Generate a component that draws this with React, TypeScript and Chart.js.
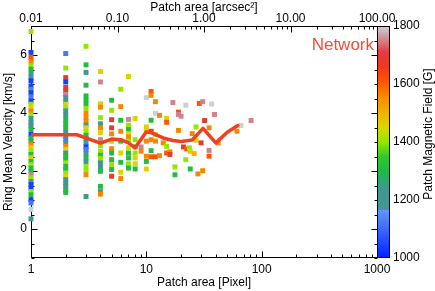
import React, { useEffect, useRef } from 'react';
import { Chart, registerables } from 'chart.js';

Chart.register(...registerables);

const FONT = '"Liberation Sans", Arial, Helvetica, sans-serif';

// ---- integer patch-area columns (pixel area) ----
const columnArea = [1, 2, 3, 4, 5, 6, 7, 8, 9, 10, 11, 12, 13, 14, 15, 16];

const columnVelocity = [
  [6.81, 6.09, 5.92, 5.77, 5.63, 5.51, 5.36, 5.22, 5.11, 4.93, 4.82, 4.70, 4.56, 4.41, 4.30, 4.18, 4.07, 3.93, 3.81, 3.66, 3.55, 3.43, 3.26, 3.14, 3.03, 2.91, 2.80, 2.68, 2.57, 2.45, 2.33, 2.22, 2.10, 1.99, 1.87, 1.76, 1.64, 1.53, 1.41, 1.29, 1.18, 1.01, 0.90, 0.68, 0.35],
  [6.05, 5.55, 5.22, 5.07, 4.88, 4.76, 4.64, 4.53, 4.38, 4.30, 4.18, 4.07, 3.93, 3.78, 3.64, 3.49, 3.34, 3.20, 3.08, 2.97, 2.85, 2.74, 2.62, 2.51, 2.39, 2.28, 2.16, 2.05, 1.93, 1.81, 1.70, 1.58, 1.47, 1.35, 1.26],
  [6.30, 5.66, 5.40, 4.96, 4.59, 4.44, 4.30, 4.16, 3.99, 3.84, 3.70, 3.58, 3.49, 3.35, 3.23, 3.12, 2.97, 2.83, 2.74, 2.60, 2.45, 2.31, 2.16, 2.02, 1.87, 1.12],
  [5.43, 5.07, 4.32, 4.20, 3.84, 3.63, 3.49, 3.32, 3.08, 2.88, 2.68, 2.54, 2.43, 2.28, 2.13, 1.99, 1.47, 1.29, 1.20],
  [4.44, 4.09, 3.77, 3.49, 3.28, 3.03, 2.77, 2.62, 2.39, 2.22, 2.05, 1.82],
  [4.82, 4.22, 3.75, 3.37, 3.03, 2.62, 2.30, 1.96, 1.74],
  [5.26, 3.78, 3.58, 3.43, 3.29, 3.17, 3.03, 2.80, 2.62, 2.45, 2.25, 2.10],
  [3.81, 3.08, 2.83, 2.62, 2.45, 2.25, 2.07],
  [2.83, 2.68],
  [4.53, 3.52, 3.37, 3.03, 2.51, 2.33, 2.07],
  [4.74, 4.61, 3.75, 3.37, 3.08, 2.70, 2.49],
  [4.39, 3.99, 3.26, 3.03, 2.49],
  [3.92, 2.53],
  [2.97],
  [3.81, 3.68, 2.85, 2.62],
  [2.66, 2.57],
];

const columnField = [
  [1400, 1040, 1610, 1560, 1400, 1310, 1200, 1200, 1040, 1040, 1200, 1040, 1120, 1040, 1400, 1455, 1560, 1400, 1200, 1200, 1200, 1310, 1040, 1310, 1310, 1560, 1455, 1400, 1310, 1455, 1310, 1400, 1310, 1310, 1750, 1400, 1200, 1040, 1040, 1400, 1310, 1040, 1120, 1800, 1200],
  [1120, 1400, 1680, 1040, 1680, 1680, 1750, 1200, 1200, 1455, 1400, 1200, 1200, 1310, 1310, 1310, 1200, 1200, 1120, 1200, 1560, 1455, 1200, 1310, 1310, 1400, 1310, 1310, 1400, 1455, 1200, 1200, 1200, 1310, 1310],
  [1400, 1310, 1200, 1310, 1310, 1310, 1310, 1400, 1560, 1560, 1560, 1200, 1455, 1400, 1310, 1200, 1200, 1040, 1120, 1200, 1310, 1200, 1400, 1400, 1560, 1200],
  [1455, 1750, 1455, 1560, 1400, 1200, 1560, 1455, 1750, 1400, 1400, 1310, 1400, 1200, 1200, 1310, 1310, 1200, 1560],
  [1310, 1400, 1680, 1680, 1560, 1400, 1560, 1310, 1310, 1400, 1310, 1680],
  [1400, 1560, 1310, 1560, 1310, 1455, 1310, 1455, 1560],
  [1455, 1750, 1400, 1310, 1455, 1560, 1400, 1455, 1310, 1310, 1400, 1310],
  [1455, 1400, 1310, 1400, 1455, 1455, 1310],
  [1750, 1560],
  [1800, 1455, 1455, 1560, 1560, 1310, 1455],
  [1610, 1560, 1310, 1680, 1560, 1310, 1610],
  [1560, 1800, 1455, 1560, 1610],
  [1560, 1560],
  [1560],
  [1455, 1610, 1400, 1610],
  [1560, 1680],
];

// ---- larger, sparse patches ----
const sparseArea = [17, 17.7, 17.7, 19, 19, 19, 20, 21, 22, 22, 22.4, 23.6, 24, 24, 25, 26, 27, 27, 28, 28.8, 29.8, 30.8, 30.8, 32, 35, 35, 35, 36.8, 39, 42, 61, 66, 81];
const sparseVelocity = [4.36, 2.14, 1.87, 4.03, 3.95, 3.40, 3.89, 2.83, 4.27, 2.39, 2.76, 2.80, 2.68, 2.07, 3.29, 2.60, 3.52, 3.06, 1.90, 4.33, 2.97, 4.39, 2.01, 3.74, 3.49, 2.71, 2.51, 4.31, 3.95, 2.97, 3.37, 3.57, 3.74];
const sparseField = [1750, 1400, 1310, 1610, 1750, 1560, 1750, 1680, 1800, 1400, 1610, 1400, 1455, 1310, 1560, 1500, 1400, 1455, 1560, 1610, 1680, 1750, 1560, 1680, 1560, 1750, 1610, 1800, 1750, 1560, 1560, 1800, 1750];

// ---- Network mean curve ----
const networkArea = [1, 2.5, 4, 5, 6, 7, 8, 10, 11, 14, 17, 20, 25, 31, 40, 50, 62];
const networkVelocity = [3.25, 3.25, 2.96, 3.10, 3.08, 2.97, 2.80, 3.35, 3.32, 3.14, 3.05, 3.02, 3.07, 3.47, 2.97, 3.33, 3.57];

// ---- axis ticks ----
const bottomTicks = [1, 10, 100, 1000];
const topTicks = [0.01, 0.1, 1, 10, 100];
const leftTicks = [0, 2, 4, 6];
const colorbarTicks = [1000, 1200, 1400, 1600, 1800];

// colour table (field in G -> rgb)
const cmapStops: [number, number[]][] = [
  [1000, [0, 35, 255]],
  [1165, [100, 150, 255]],
  [1165.01, [70, 150, 150]],
  [1240, [60, 155, 140]],
  [1300, [30, 185, 70]],
  [1350, [50, 200, 40]],
  [1400, [150, 230, 0]],
  [1450, [215, 215, 0]],
  [1500, [240, 180, 0]],
  [1560, [248, 135, 0]],
  [1610, [252, 85, 0]],
  [1660, [240, 55, 30]],
  [1710, [225, 60, 65]],
  [1750, [210, 130, 140]],
  [1800, [200, 210, 210]],
];

function fieldColor(b: number): string {
  const v = Math.max(cmapStops[0][0], Math.min(cmapStops[cmapStops.length - 1][0], b));
  for (let i = 0; i < cmapStops.length - 1; i++) {
    const [v0, c0] = cmapStops[i];
    const [v1, c1] = cmapStops[i + 1];
    if (v >= v0 && v <= v1) {
      const t = (v - v0) / (v1 - v0);
      const c = c0.map((k, j) => Math.round(k + (c1[j] - k) * t));
      return `rgb(${c[0]},${c[1]},${c[2]})`;
    }
  }
  const c = cmapStops[cmapStops.length - 1][1];
  return `rgb(${c[0]},${c[1]},${c[2]})`;
}

const LINE_RED = 'rgb(238,66,36)';

const decorPlugin = {
  id: 'decor',
  beforeDatasetsDraw(chart: any) {
    const { ctx, chartArea: a, scales } = chart;
    const xs = scales.x, xt = scales.x2, ys = scales.y;
    ctx.save();
    ctx.strokeStyle = '#000';
    ctx.lineWidth = 1;
    const L = Math.round(a.left) + 0.5, R = Math.round(a.right) + 0.5;
    const T = Math.round(a.top) + 0.5, B = Math.round(a.bottom) - 0.5;
    ctx.beginPath();
    ctx.moveTo(L, T); ctx.lineTo(R, T); ctx.lineTo(R, B); ctx.lineTo(L, B); ctx.closePath();
    ctx.stroke();

    const seg = (x1: number, y1: number, x2: number, y2: number) => {
      ctx.beginPath(); ctx.moveTo(x1, y1); ctx.lineTo(x2, y2); ctx.stroke();
    };
    for (let d = 0; d <= 3; d++) {
      for (let m = 1; m <= 9; m++) {
        const v = m * Math.pow(10, d);
        if (v > 1000) break;
        const px = Math.round(xs.getPixelForValue(v)) + 0.5;
        seg(px, B, px, B - (m === 1 ? 6 : 3));
      }
    }
    for (let d = -2; d <= 2; d++) {
      for (let m = 1; m <= 9; m++) {
        const v = m * Math.pow(10, d);
        if (v > 100.0001) break;
        const px = Math.round(xt.getPixelForValue(v)) + 0.5;
        seg(px, T, px, T + (m === 1 ? 6 : 3));
      }
    }
    for (let k = -2; k <= 14; k++) {
      const v = k / 2;
      const py = Math.round(ys.getPixelForValue(v)) + 0.5;
      const len = k % 4 === 0 ? 6 : 3;
      seg(L, py, L + len, py);
      seg(R, py, R - len, py);
    }
    ctx.restore();
  },
  afterDraw(chart: any) {
    const { ctx, chartArea: a, scales } = chart;
    const yc = scales.yc;
    ctx.save();
    const cbL = a.right;
    const cbW = 12;
    for (let py = Math.round(a.top); py < Math.round(a.bottom); py++) {
      ctx.fillStyle = fieldColor(yc.getValueForPixel(py + 0.5));
      ctx.fillRect(cbL, py, cbW, 1);
    }
    ctx.strokeStyle = '#000';
    ctx.lineWidth = 1;
    ctx.strokeRect(cbL + 0.5, Math.round(a.top) + 0.5, cbW, Math.round(a.bottom) - Math.round(a.top) - 1);

    ctx.fillStyle = 'rgb(240,78,52)';
    ctx.font = `17px ${FONT}`;
    ctx.textAlign = 'right';
    ctx.textBaseline = 'alphabetic';
    ctx.fillText('Network', a.right - 3, a.top + 24);

    ctx.fillStyle = '#000';
    ctx.font = `12px ${FONT}`;
    ctx.textAlign = 'center';
    ctx.textBaseline = 'middle';
    ctx.translate(yc.right - 6, (a.top + a.bottom) / 2 - 8);
    ctx.rotate(-Math.PI / 2);
    ctx.fillText('Patch Magnetic Field [G]', 0, 0);
    ctx.restore();
  },
};

export default function App() {
  const ref = useRef<HTMLCanvasElement | null>(null);

  useEffect(() => {
    if (!ref.current) return;
    const pts: { x: number; y: number }[] = [];
    const cols: string[] = [];
    columnArea.forEach((area, i) => {
      columnVelocity[i].forEach((v, j) => {
        pts.push({ x: area, y: v });
        cols.push(fieldColor(columnField[i][j]));
      });
    });
    sparseArea.forEach((area, i) => {
      pts.push({ x: area, y: sparseVelocity[i] });
      cols.push(fieldColor(sparseField[i]));
    });

    const tickFont = { family: FONT, size: 12 };
    const chart = new Chart(ref.current, {
      type: 'scatter',
      data: {
        datasets: [
          {
            type: 'line',
            data: networkArea.map((a, i) => ({ x: a, y: networkVelocity[i] })),
            borderColor: LINE_RED,
            borderWidth: 3.5,
            pointRadius: 0,
            fill: false,
            tension: 0,
            borderJoinStyle: 'round',
            borderCapStyle: 'round',
            order: 0,
            xAxisID: 'x',
            yAxisID: 'y',
          } as any,
          {
            type: 'scatter',
            data: pts,
            pointStyle: 'rect',
            pointRadius: 3.5,
            pointBorderWidth: 0,
            pointBackgroundColor: cols,
            order: 1,
            clip: false,
            xAxisID: 'x',
            yAxisID: 'y',
          } as any,
        ],
      },
      options: {
        animation: false,
        responsive: false,
        devicePixelRatio: 1,
        layout: { padding: 0, autoPadding: false },
        plugins: { legend: { display: false }, tooltip: { enabled: false } },
        scales: {
          x: {
            type: 'logarithmic',
            position: 'bottom',
            min: 1,
            max: 1000,
            afterBuildTicks: (s: any) => { s.ticks = bottomTicks.map((value) => ({ value })); },
            afterFit: (s: any) => { s.height = 33; },
            grid: { display: false, drawTicks: false },
            border: { display: false },
            ticks: { callback: (v: any) => String(v), font: tickFont, color: '#000', padding: 4, maxRotation: 0, autoSkip: false },
            title: { display: true, text: 'Patch area [Pixel]', font: tickFont, color: '#000', padding: { top: 0, bottom: 1 } },
          },
          x2: {
            type: 'logarithmic',
            position: 'top',
            min: 0.01,
            max: 100,
            afterBuildTicks: (s: any) => { s.ticks = topTicks.map((value) => ({ value })); },
            afterFit: (s: any) => { s.height = 26; },
            grid: { display: false, drawTicks: false },
            border: { display: false },
            ticks: { callback: (v: any) => Number(v).toFixed(2), font: tickFont, color: '#000', padding: 0, maxRotation: 0, autoSkip: false },
            title: { display: true, text: 'Patch area [arcsec²]', font: tickFont, color: '#000', padding: { top: 0, bottom: 0 } },
          },
          y: {
            type: 'linear',
            position: 'left',
            min: -1,
            max: 7,
            afterBuildTicks: (s: any) => { s.ticks = leftTicks.map((value) => ({ value })); },
            afterFit: (s: any) => { s.width = 31; },
            grid: { display: false, drawTicks: false },
            border: { display: false },
            ticks: { callback: (v: any) => String(v), font: tickFont, color: '#000', padding: 4, autoSkip: false },
            title: { display: true, text: 'Ring Mean Velocity [km/s]', font: tickFont, color: '#000', padding: { top: 1, bottom: 0 } },
          },
          yc: {
            type: 'linear',
            position: 'right',
            min: 1000,
            max: 1800,
            afterBuildTicks: (s: any) => { s.ticks = colorbarTicks.map((value) => ({ value })); },
            afterFit: (s: any) => { s.width = 58; },
            grid: { display: false, drawTicks: false },
            border: { display: false },
            ticks: { callback: (v: any) => String(v), font: tickFont, color: '#000', padding: 16, autoSkip: false },
          },
        },
      } as any,
      plugins: [decorPlugin],
    });
    return () => chart.destroy();
  }, []);

  return (
    <div style={{ position: 'fixed', left: 0, top: 0, width: 435, height: 291, background: '#fff' }}>
      <canvas ref={ref} width={435} height={291} style={{ display: 'block' }} />
    </div>
  );
}
